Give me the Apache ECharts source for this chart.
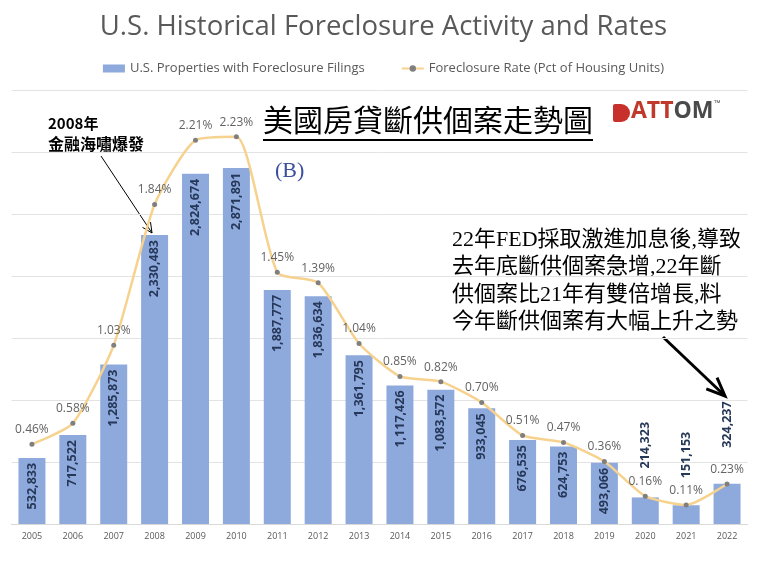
<!DOCTYPE html>
<html>
<head>
<meta charset="utf-8">
<script src="https://cdn.jsdelivr.net/npm/echarts@6/dist/echarts.min.js"></script>
<style>html,body{margin:0;padding:0;background:#fff}#c{width:767px;height:561px}</style>
</head>
<body>
<div id="c"></div>
<script>
var years = ['2005','2006','2007','2008','2009','2010','2011','2012','2013','2014','2015','2016','2017','2018','2019','2020','2021','2022'];
var filings = [532833,717522,1285873,2330483,2824674,2871891,1887777,1836634,1361795,1117426,1083572,933045,676535,624753,493066,214323,151153,324237];
var rates = [0.46,0.58,1.03,1.84,2.21,2.23,1.45,1.39,1.04,0.85,0.82,0.70,0.51,0.47,0.36,0.16,0.11,0.23];
var outsideYears = {'2020':29,'2021':27,'2022':36};

var chart = echarts.init(document.getElementById('c'), null, {renderer:'canvas'});

function arrowHead(tip, from, size, ang){
  var dx = from[0]-tip[0], dy = from[1]-tip[1];
  var L = Math.sqrt(dx*dx+dy*dy); dx/=L; dy/=L;
  var c = Math.cos(ang), s = Math.sin(ang);
  var p1 = [tip[0]+size*(dx*c-dy*s), tip[1]+size*(dx*s+dy*c)];
  var p2 = [tip[0]+size*(dx*c+dy*s), tip[1]+size*(-dx*s+dy*c)];
  return [p1, tip, p2];
}

var barData = filings.map(function(v,i){
  var y = years[i];
  if (outsideYears[y] !== undefined) {
    return {value:v, label:{position:'top', align:'left', distance:outsideYears[y]}};
  }
  return v;
});

var serifCJK = '"Liberation Serif","Noto Sans CJK TC",serif';
var sansCJK = '"Noto Sans CJK TC",sans-serif';

var option = {
  animation:false,
  backgroundColor:'#fff',
  title:{
    text:'U.S. Historical Foreclosure Activity and Rates',
    left:'center', top:8,
    textStyle:{fontFamily:'"Open Sans"',fontSize:27.5,fontWeight:'normal',color:'#595959'}
  },
  legend:{
    top:57, left:'center', itemGap:36, itemWidth:22, itemHeight:8,
    textStyle:{fontFamily:'"Open Sans"',fontSize:13,color:'#595959'},
    data:[{name:'U.S. Properties with Foreclosure Filings',icon:'rect'},{name:'Foreclosure Rate (Pct of Housing Units)'}]
  },
  grid:{left:11.5,right:19.5,top:90,bottom:37,containLabel:false},
  xAxis:{
    type:'category', data:years,
    axisTick:{show:false},
    axisLine:{lineStyle:{color:'#d9d9d9'}},
    axisLabel:{fontSize:9,color:'#595959',margin:8,fontFamily:'"Open Sans"'}
  },
  yAxis:[
    {type:'value',min:0,max:3500000,interval:500000,axisLabel:{show:false},axisLine:{show:false},axisTick:{show:false},
     splitLine:{lineStyle:{color:'#e3e3e3'}}},
    {type:'value',min:0,max:2.5,show:false,splitLine:{show:false}}
  ],
  series:[
    {
      name:'U.S. Properties with Foreclosure Filings', type:'bar', data:barData, barCategoryGap:'34%',
      itemStyle:{color:'#8EA9DB'},
      label:{show:true, position:'insideTop', rotate:90, align:'right', verticalAlign:'middle', distance:5,
        fontSize:12.5, fontWeight:'bold', color:'#263859', fontFamily:'"Open Sans"',
        formatter:function(p){return p.value.toLocaleString('en-US');}}
    },
    {
      name:'Foreclosure Rate (Pct of Housing Units)', type:'line', yAxisIndex:1, data:rates, smooth:0.2,
      symbol:'circle', symbolSize:5,
      itemStyle:{color:'#7f7f7f'},
      lineStyle:{color:'#F6D28E',width:2.5},
      label:{show:true, position:'top', distance:6, fontSize:12, color:'#636363', fontFamily:'"Open Sans"',
        formatter:function(p){return p.value.toFixed(2)+'%';}},
      z:3
    }
  ],
  graphic:[
    {type:'text', left:263, top:108, style:{text:'美國房貸斷供個案走勢圖', font:'30px '+serifCJK, fill:'#000'}},
    {type:'line', shape:{x1:263,y1:140,x2:593,y2:140}, style:{stroke:'#000',lineWidth:2}},
    {type:'text', left:275, top:160, style:{text:'(B)', font:'22px '+serifCJK, fill:'#3b4ea0'}},
    {type:'text', left:48, top:116, style:{text:'2008年', font:'bold 15px '+sansCJK, fill:'#000'}},
    {type:'text', left:48, top:136, style:{text:'金融海嘯爆發', font:'bold 16px '+sansCJK, fill:'#000'}},
    {type:'line', shape:{x1:101,y1:156,x2:152,y2:233}, style:{stroke:'#000',lineWidth:1}},
    {type:'polyline', shape:{points:arrowHead([152,233],[101,156],11,0.45)}, style:{stroke:'#000',lineWidth:1,fill:null}},
    {type:'text', left:452, top:226, style:{text:'22年FED採取激進加息後,導致\n去年底斷供個案急增,22年斷\n供個案比21年有雙倍增長,料\n今年斷供個案有大幅上升之勢', font:'22px '+serifCJK, lineHeight:27.5, fill:'#000'}},
    {type:'line', shape:{x1:663,y1:337,x2:724,y2:395}, style:{stroke:'#000',lineWidth:3}},
    {type:'polyline', shape:{points:arrowHead([725,396],[663,337],20,0.4)}, style:{stroke:'#000',lineWidth:3,fill:null}},
    {type:'rect', shape:{x:613,y:104,width:17,height:18,r:[2,9,9,2]}, style:{fill:'#c8312b'}},
    {type:'text', left:631, top:100, style:{rich:{a:{fontSize:23,fontWeight:'bold',fill:'#c0392b',fontFamily:'"Open Sans"'},b:{fontSize:23,fontWeight:'bold',fill:'#4a4a4a',fontFamily:'"Open Sans"'},c:{fontSize:7,fill:'#4a4a4a',verticalAlign:'top'}}, text:'{a|ATT}{b|OM}{c|™}'}}
  ]
};
chart.setOption(option);
</script>
</body>
</html>
